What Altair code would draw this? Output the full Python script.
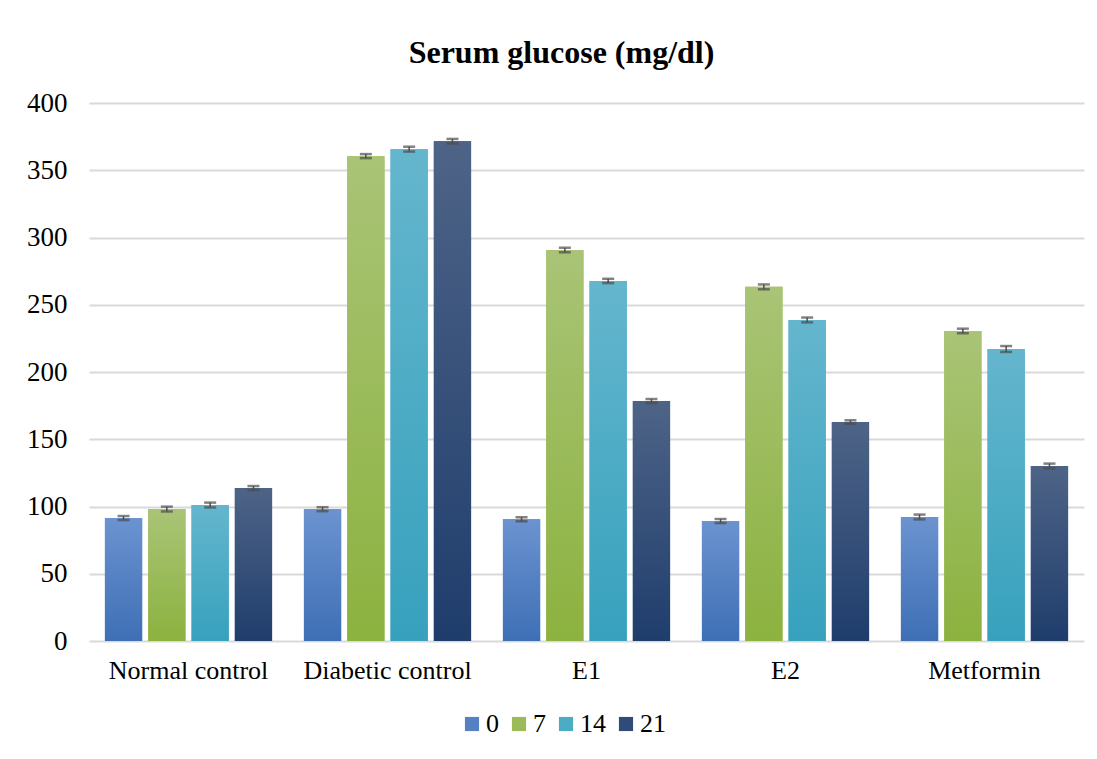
import altair as alt
import pandas as pd

groups = ["Normal control", "Diabetic control", "E1", "E2", "Metformin"]
series = ["0", "7", "14", "21"]
v0 = [91.4, 98.0, 90.5, 89.2, 92.2]
v7 = [98.1, 360.5, 290.7, 263.3, 230.5]
v14 = [101.1, 365.7, 267.7, 238.7, 217.1]
v21 = [113.7, 371.6, 178.4, 162.8, 130.1]
e0 = [1.5, 1.5, 1.5, 1.5, 1.8]
e7 = [1.8, 1.5, 1.7, 1.8, 1.7]
e14 = [1.8, 1.8, 1.6, 1.8, 2.2]
e21 = [1.5, 1.7, 1.5, 1.3, 1.8]

tops = ["#6b93d0", "#a9c476", "#64b6cd", "#4e6487"]
bots = ["#3e6fb5", "#8cb23f", "#37a1bd", "#1f3d6c"]
mids = ["#5581c3", "#9bbb59", "#4bacc6", "#2f4c79"]

rows = []
for s, vals, errs in zip(series, [v0, v7, v14, v21], [e0, e7, e14, e21]):
    for g, v, e in zip(groups, vals, errs):
        rows.append({"group": g, "series": s, "value": v, "lo": v - e, "hi": v + e})
df = pd.DataFrame(rows)

FONT = "Liberation Serif"

xenc = alt.X("group:N", sort=groups,
             scale=alt.Scale(paddingInner=0.16, paddingOuter=0.08),
             axis=alt.Axis(title=None, labelAngle=0, ticks=False, domain=False,
                           labelPadding=16, labelFont=FONT, labelFontSize=26,
                           labelColor="black", grid=False))
xoff = alt.XOffset("series:N", sort=series,
                   scale=alt.Scale(domain=series, paddingInner=0.14, paddingOuter=0))
yax = alt.Axis(title=None, values=list(range(0, 401, 50)), domain=False, ticks=False,
               labelPadding=22, labelFont=FONT, labelFontSize=27, labelColor="black",
               gridColor="#d9d9d9", gridWidth=2)
yscale = alt.Scale(domain=[0, 400], nice=False)

base = alt.Chart(df).encode(x=xenc, xOffset=xoff)

solid = base.mark_bar().encode(
    y=alt.Y("value:Q", scale=yscale, axis=yax),
    color=alt.Color("series:N", sort=series,
                    scale=alt.Scale(domain=series, range=mids),
                    legend=alt.Legend(title=None, orient="none", legendX=370, legendY=608,
                                      direction="horizontal", symbolType="square",
                                      symbolSize=200, symbolStrokeWidth=0,
                                      labelFont=FONT, labelFontSize=26, labelColor="black",
                                      labelOffset=1, columnPadding=7, padding=0)),
)

layers = [solid]
for s, t, b in zip(series, tops, bots):
    grad = alt.Gradient(gradient="linear",
                        stops=[alt.GradientStop(color=t, offset=0),
                               alt.GradientStop(color=b, offset=1)],
                        x1=0, x2=0, y1=0, y2=1)
    layers.append(
        base.transform_filter(alt.datum.series == s)
        .mark_bar(color=grad)
        .encode(y=alt.Y("value:Q", scale=yscale, axis=yax))
    )

rule = base.mark_rule(color="#4d4d4d", strokeWidth=1.5).encode(
    y=alt.Y("lo:Q", scale=yscale, axis=yax), y2="hi:Q")
cap_lo = base.mark_tick(color="#4d4d4d", thickness=2.5, size=12).encode(
    y=alt.Y("lo:Q", scale=yscale, axis=yax))
cap_hi = base.mark_tick(color="#4d4d4d", thickness=2.5, size=12).encode(
    y=alt.Y("hi:Q", scale=yscale, axis=yax))
layers += [rule, cap_lo, cap_hi]

chart = alt.layer(*layers).properties(
    width=995, height=538,
    padding={"left": 18, "top": 29, "right": 5, "bottom": 5},
    title=alt.Title("Serum glucose (mg/dl)", font=FONT, fontSize=32, fontWeight="bold",
                    color="black", offset=19, anchor="middle", dx=-25),
).configure(background="white").configure_view(stroke=None)

chart.save("out.html", embed_options={"renderer": "svg", "actions": False})
